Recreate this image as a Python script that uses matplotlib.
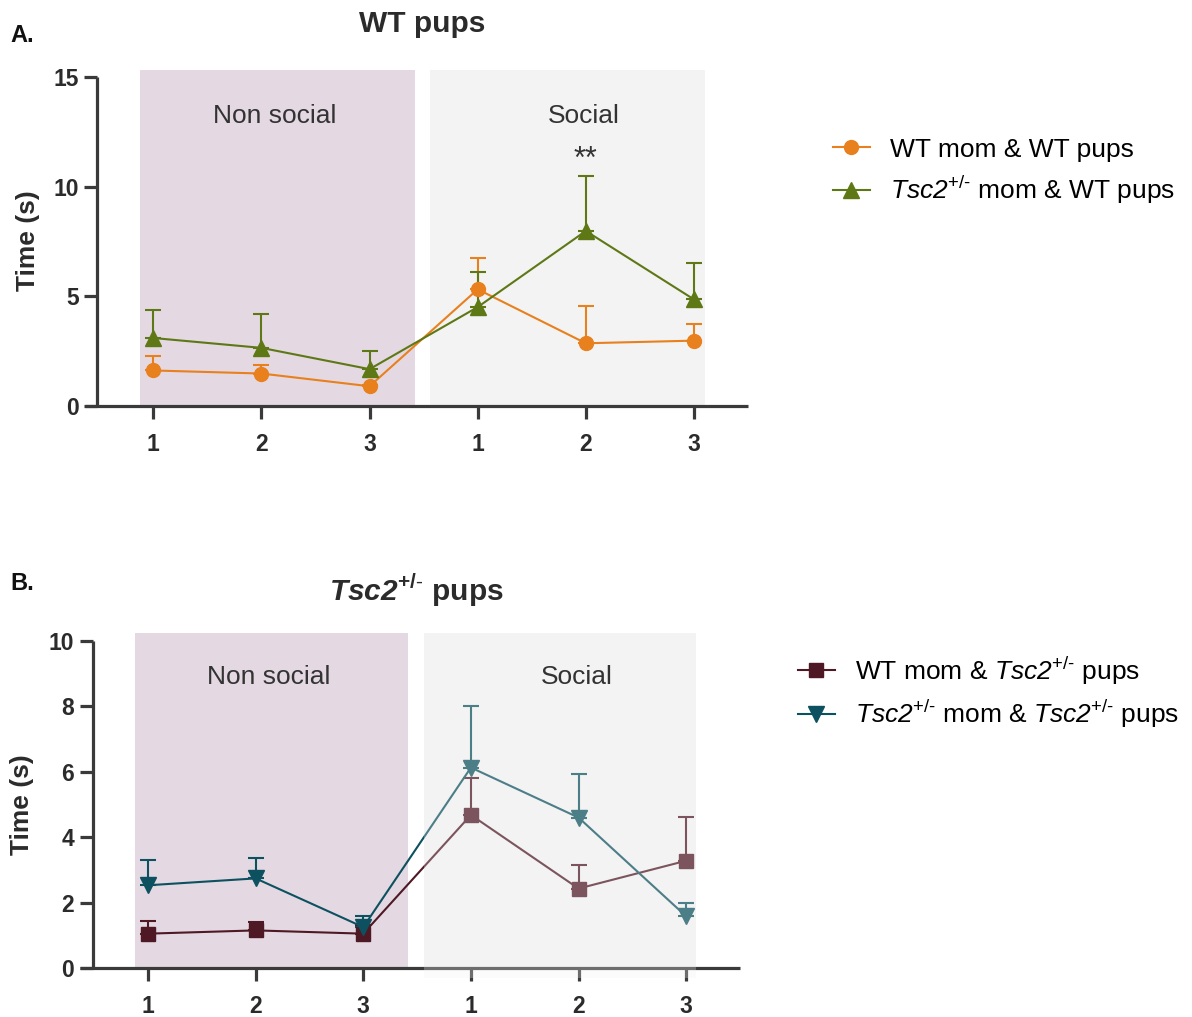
"""WT pups / Tsc2+/- pups: time (s) across non social and social trials."""

import numpy as np
import matplotlib
matplotlib.use("Agg")
import matplotlib.pyplot as plt
from matplotlib.lines import Line2D
from matplotlib.patches import Rectangle

plt.rcParams["font.family"] = ["Liberation Sans", "DejaVu Sans"]
plt.rcParams["mathtext.fontset"] = "custom"
plt.rcParams["mathtext.rm"] = "Liberation Sans"
plt.rcParams["mathtext.sf"] = "Liberation Sans:italic"          # italic incl. digits
plt.rcParams["mathtext.tt"] = "Liberation Sans:bold:italic"     # bold italic incl. digits
plt.rcParams["mathtext.bf"] = "Liberation Sans:bold"

# ---- data -------------------------------------------------------------
trial_labels = ["1", "2", "3", "1", "2", "3"]

# panel A: WT pups
wt_wt_mean = [1.62, 1.48, 0.90, 5.32, 2.86, 2.98]
wt_wt_err = [0.64, 0.40, 0.05, 1.42, 1.68, 0.77]
tsc_wt_mean = [3.10, 2.65, 1.68, 4.51, 7.98, 4.86]
tsc_wt_err = [1.26, 1.55, 0.83, 1.58, 2.51, 1.64]

# panel B: Tsc2+/- pups
wt_tsc_mean = [1.05, 1.15, 1.05, 4.68, 2.43, 3.28]
wt_tsc_err = [0.40, 0.25, 0.28, 1.12, 0.73, 1.33]
tsc_tsc_mean = [2.53, 2.74, 1.25, 6.13, 4.60, 1.58]
tsc_tsc_err = [0.76, 0.62, 0.33, 1.87, 1.32, 0.41]

ORANGE = "#E8801E"
GREEN = "#5E7816"
MAROON = "#4E1824"
TEAL = "#0D5160"
SHADE_NS = "#E4D9E2"
SHADE_S = "#F3F3F3"
AXC = "#3A3A3A"

TSC = r"$\mathsf{Tsc2}^{\text{+/-}}$"

W, H = 1192, 1017
fig = plt.figure(figsize=(W / 100, H / 100), dpi=100)


def px_axes(left, right, bottom, top):
    return fig.add_axes([left / W, 1 - bottom / H, (right - left) / W, (bottom - top) / H])


def style_axes(ax, ymax, yticks, yaxis_x, shade_top, ns_span, s_span, overlay=False):
    x = np.arange(6)
    ax.set_xlim(-0.632, 5.50)
    ax.set_ylim(0, ymax)
    ax.set_xticks(x)
    ax.set_xticklabels(trial_labels)
    ax.set_yticks(yticks)
    for s in ("top", "right"):
        ax.spines[s].set_visible(False)
    ax.spines["left"].set_position(("data", yaxis_x))
    for s in ("left", "bottom"):
        ax.spines[s].set_linewidth(2.3)
        ax.spines[s].set_color(AXC)
        ax.spines[s].set_capstyle("butt")
    ax.tick_params(axis="both", direction="out", length=9.5, width=2.3, color=AXC,
                   labelsize=16.5, labelcolor="#2b2b2b")
    ax.tick_params(axis="x", pad=10)
    ax.tick_params(axis="y", pad=4)
    for lbl in ax.get_xticklabels() + ax.get_yticklabels():
        lbl.set_fontweight("bold")
    ax.add_patch(Rectangle((ns_span[0], 0), ns_span[1] - ns_span[0], shade_top,
                           facecolor=SHADE_NS, edgecolor="none", zorder=0, clip_on=False))
    ax.add_patch(Rectangle((s_span[0], 0), s_span[1] - s_span[0], shade_top,
                           facecolor=SHADE_S, edgecolor="none", zorder=0, clip_on=False))
    if overlay:
        ax.add_patch(Rectangle((s_span[0], -0.03 * ymax), s_span[1] - s_span[0],
                               shade_top + 0.03 * ymax, facecolor=SHADE_S,
                               edgecolor="none", alpha=0.28, zorder=6, clip_on=False))
    ax.set_facecolor("none")


def series(ax, mean, err, color, marker, ms):
    x = np.arange(len(mean))
    ax.errorbar(x, mean, yerr=[np.zeros(len(err)), err], color=color, marker=marker,
                markersize=ms, linewidth=1.5, elinewidth=1.5, capsize=6, capthick=1.5,
                zorder=3, clip_on=False)


def region_labels(ax, y):
    ax.text(1.12, y, "Non social", ha="center", va="center", fontsize=19,
            color="#333333", zorder=8)
    ax.text(3.98, y, "Social", ha="center", va="center", fontsize=19,
            color="#333333", zorder=8)


# ---- panel A ----------------------------------------------------------
axA = px_axes(85, 748, 406, 77)
style_axes(axA, 15, [0, 5, 10, 15], -0.518, 15.32, (-0.12, 2.42), (2.56, 5.10))
series(axA, wt_wt_mean, wt_wt_err, ORANGE, "o", 10)
series(axA, tsc_wt_mean, tsc_wt_err, GREEN, "^", 11)
region_labels(axA, 13.2)
axA.text(4.0, 11.2, "**", ha="center", va="center", fontsize=22, color="#333333")

hA = [Line2D([], [], color=ORANGE, marker="o", markersize=10, linewidth=1.5),
      Line2D([], [], color=GREEN, marker="^", markersize=11, linewidth=1.5)]
fig.legend(hA, ["WT mom & WT pups", TSC + " mom & WT pups"],
           loc="center left", bbox_to_anchor=(833 / W, 1 - 172 / H), frameon=False,
           fontsize=19, handlelength=1.4, handletextpad=0.75, labelspacing=0.45,
           borderpad=0, borderaxespad=0)

fig.text(28 / W, 1 - 241 / H, "Time (s)", rotation=90, ha="center", va="center",
         fontsize=19, fontweight="bold", color="#2b2b2b")
fig.text(422 / W, 1 - 24 / H, "WT pups", ha="center", va="center",
         fontsize=21.5, fontweight="bold", color="#2b2b2b")
fig.text(10 / W, 1 - 36 / H, "A.", ha="left", va="center",
         fontsize=17, fontweight="bold", color="#111111")

# ---- panel B ----------------------------------------------------------
axB = px_axes(80, 740, 968, 641)
style_axes(axB, 10, [0, 2, 4, 6, 8, 10], -0.511, 10.24, (-0.12, 2.42), (2.56, 5.09),
           overlay=True)
series(axB, wt_tsc_mean, wt_tsc_err, MAROON, "s", 10)
series(axB, tsc_tsc_mean, tsc_tsc_err, TEAL, "v", 11)
region_labels(axB, 8.9)

hB = [Line2D([], [], color=MAROON, marker="s", markersize=10, linewidth=1.5),
      Line2D([], [], color=TEAL, marker="v", markersize=11, linewidth=1.5)]
fig.legend(hB, ["WT mom & " + TSC + " pups", TSC + " mom & " + TSC + " pups"],
           loc="center left", bbox_to_anchor=(798 / W, 1 - 692 / H), frameon=False,
           fontsize=19, handlelength=1.4, handletextpad=0.75, labelspacing=0.4,
           borderpad=0, borderaxespad=0)

fig.text(22 / W, 1 - 805 / H, "Time (s)", rotation=90, ha="center", va="center",
         fontsize=19, fontweight="bold", color="#2b2b2b")
fig.text(416 / W, 1 - 590 / H, r"$\mathtt{Tsc2}^{\mathbf{+/}\text{-}}$ pups",
         ha="center", va="center", fontsize=21.5, fontweight="bold", color="#2b2b2b")
fig.text(10 / W, 1 - 584 / H, "B.", ha="left", va="center",
         fontsize=17, fontweight="bold", color="#111111")

fig.savefig("out.png", dpi=100)
